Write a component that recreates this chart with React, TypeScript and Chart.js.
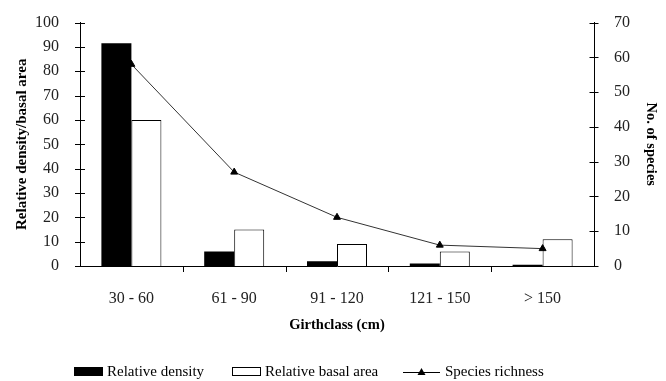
import React, { useEffect, useRef } from 'react';
import { Chart, registerables } from 'chart.js';

Chart.register(...registerables);

const categories = ['30 - 60', '61 - 90', '91 - 120', '121 - 150', '> 150'];
const relativeDensity = [91.5, 6, 2, 1, 0.5];
const relativeBasalArea = [60, 15, 9, 6, 11];
const speciesRichness = [58, 27, 14, 6, 5];

const SERIF = '"Liberation Serif", "Times New Roman", serif';

const tickPlugin = {
  id: 'customTicks',
  afterDraw(chart: any) {
    const ctx = chart.ctx;
    const y = chart.scales.y;
    const y1 = chart.scales.y1;
    const x = chart.scales.x;
    ctx.save();
    ctx.strokeStyle = '#000';
    ctx.lineWidth = 1;
    ctx.beginPath();
    y.ticks.forEach((t: any) => {
      const py = Math.round(y.getPixelForValue(t.value)) + 0.5;
      ctx.moveTo(x.left - 5, py);
      ctx.lineTo(x.left + 5, py);
    });
    y1.ticks.forEach((t: any) => {
      const py = Math.round(y1.getPixelForValue(t.value)) + 0.5;
      ctx.moveTo(x.right - 4.5, py);
      ctx.lineTo(x.right + 4.5, py);
    });
    const n = categories.length;
    const w = (x.right - x.left) / n;
    for (let k = 1; k < n; k++) {
      const px = Math.round(x.left + w * k) + 0.5;
      ctx.moveTo(px, x.top);
      ctx.lineTo(px, x.top + 6);
    }
    ctx.stroke();

    // legend
    const ly = 372;
    ctx.font = `15px ${SERIF}`;
    ctx.fillStyle = '#000';
    ctx.textBaseline = 'middle';
    ctx.fillRect(74, 367, 29, 9);
    ctx.fillText('Relative density', 107, ly);
    ctx.strokeRect(232.5, 367.5, 28, 8);
    ctx.fillText('Relative basal area', 265, ly);
    ctx.beginPath();
    ctx.moveTo(403, ly + 0.5);
    ctx.lineTo(440, ly + 0.5);
    ctx.stroke();
    ctx.beginPath();
    ctx.moveTo(421.5, ly - 4);
    ctx.lineTo(425.5, ly + 3);
    ctx.lineTo(417.5, ly + 3);
    ctx.closePath();
    ctx.fill();
    ctx.fillText('Species richness', 445, ly);
    ctx.restore();
  },
};

export default function App() {
  const ref = useRef<HTMLCanvasElement>(null);
  useEffect(() => {
    if (!ref.current) return;
    const chart = new Chart(ref.current, {
      type: 'bar',
      data: {
        labels: categories,
        datasets: [
          {
            type: 'line',
            label: 'Species richness',
            data: speciesRichness,
            yAxisID: 'y1',
            borderColor: '#333',
            borderWidth: 1,
            pointStyle: 'triangle',
            pointRadius: 4,
            pointBackgroundColor: '#000',
            pointBorderColor: '#000',
            tension: 0,
            order: 0,
          } as any,
          {
            label: 'Relative density',
            data: relativeDensity,
            backgroundColor: '#000',
            borderColor: '#000',
            borderWidth: 0,
            yAxisID: 'y',
            order: 1,
          },
          {
            label: 'Relative basal area',
            data: relativeBasalArea,
            backgroundColor: '#fff',
            borderColor: '#000',
            borderWidth: 1,
            yAxisID: 'y',
            order: 1,
          },
        ],
      },
      options: {
        animation: false,
        responsive: false,
        layout: { padding: { top: 19, right: 0, bottom: 35, left: 0 } },
        plugins: { legend: { display: false }, tooltip: { enabled: false } },
        datasets: { bar: { categoryPercentage: 0.5837, barPercentage: 1 } },
        scales: {
          x: {
            grid: { display: false },
            border: { display: true, color: '#000', width: 1 },
            ticks: { color: '#222', padding: 15, font: { family: SERIF, size: 16 } },
            title: {
              display: true,
              text: 'Girthclass (cm)',
              color: '#000',
              font: { family: SERIF, size: 14.5, weight: 'bold' },
              padding: { top: 0, bottom: 12 },
            },
            afterFit: (s: any) => { s.height = 80; },
          },
          y: {
            position: 'left',
            min: 0,
            max: 100,
            grid: { display: false },
            border: { display: true, color: '#000', width: 1 },
            ticks: { stepSize: 10, color: '#222', padding: 13, font: { family: SERIF, size: 16 } },
            title: {
              display: true,
              text: 'Relative density/basal area',
              color: '#000',
              font: { family: SERIF, size: 15, weight: 'bold' },
              padding: { top: 13, bottom: 0 },
            },
            afterFit: (s: any) => { s.width = 80; },
          },
          y1: {
            position: 'right',
            min: 0,
            max: 70,
            grid: { display: false },
            border: { display: true, color: '#000', width: 1 },
            ticks: { stepSize: 10, color: '#222', padding: 12, font: { family: SERIF, size: 16 } },
            title: {
              display: true,
              text: 'No. of species',
              color: '#000',
              font: { family: SERIF, size: 14.5, weight: 'bold' },
              padding: { top: 7, bottom: 0 },
            },
            afterFit: (s: any) => { s.width = 72; },
          },
        },
      } as any,
      plugins: [tickPlugin],
    });
    return () => chart.destroy();
  }, []);
  return (
    <div style={{ position: 'absolute', left: 0, top: 0, width: 666, height: 381, background: '#fff' }}>
      <canvas ref={ref} width={666} height={381} style={{ width: 666, height: 381, display: 'block' }} />
    </div>
  );
}
